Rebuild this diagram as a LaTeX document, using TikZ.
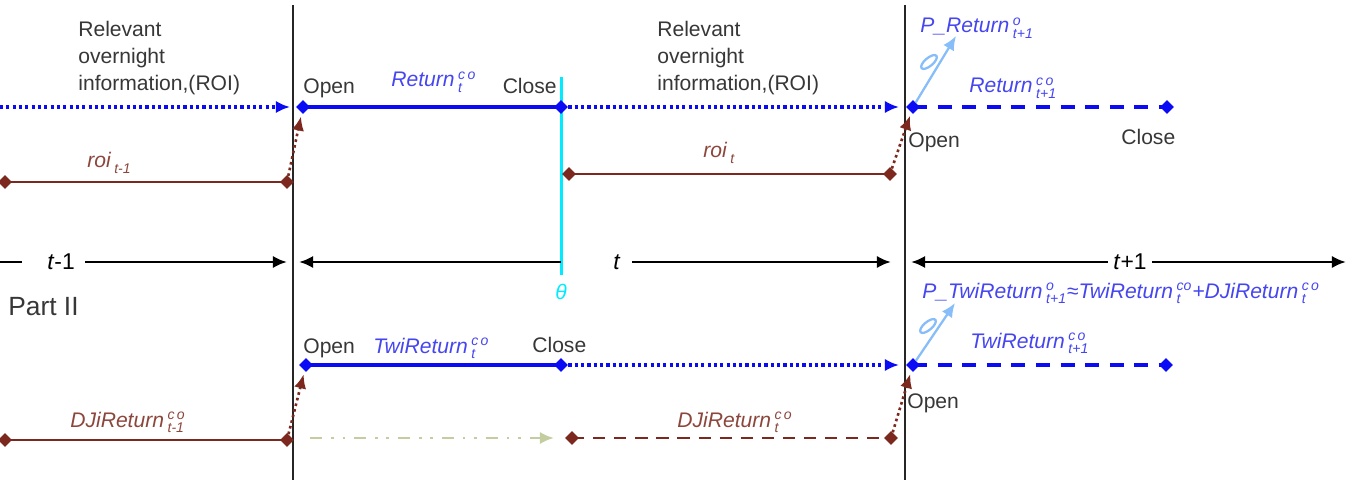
\documentclass[tikz,border=0pt]{standalone}
\usepackage{amsmath}
\usepackage{fontspec}
\setmainfont{Liberation Sans}
\usetikzlibrary{arrows.meta,shapes.geometric}
\newcommand{\sps}[2]{\,$^{\text{#1}}_{\text{#2}}$}

\begin{document}
\begin{tikzpicture}[x=0.02cm,y=-0.02cm,>={Latex[length=8pt,width=7pt]},
  every node/.style={inner sep=0pt},
  vln/.style={line width=1.3pt,black!85},
  tln/.style={line width=1.7pt,black},
  bsolid/.style={pureb,line width=1.8pt},
  bdot/.style={pureb,line width=1.8pt,dash pattern=on 1.8pt off 1.8pt,->},
  bdash/.style={pureb,line width=1.8pt,dash pattern=on 8pt off 6pt},
  rsolid/.style={brn,line width=1.5pt},
  rdash/.style={brn,line width=1.6pt,dash pattern=on 7pt off 5pt},
  rdot/.style={brn,line width=1.5pt,dash pattern=on 1.5pt off 1.8pt,->,shorten >=2pt},
  gdash/.style={olv,line width=1.6pt,dash pattern=on 7pt off 5pt on 1.5pt off 5pt on 1.5pt off 5pt,->},
  lbarr/.style={lblue,line width=1.3pt,->},
  bdia/.style={diamond,fill=pureb,minimum size=8pt},
  rdia/.style={diamond,fill=brn,minimum size=8pt},
  txt/.style={text=txtg,font=\fontsize{12}{15.4}\selectfont},
  blab/.style={text=labb,font=\fontsize{12}{14}\selectfont\itshape},
  rlab/.style={text=labr,font=\fontsize{12}{14}\selectfont\itshape}]

\definecolor{pureb}{RGB}{10,10,245}
\definecolor{labb}{RGB}{70,70,240}
\definecolor{brn}{RGB}{125,40,30}
\definecolor{labr}{RGB}{140,70,60}
\definecolor{lblue}{RGB}{135,190,250}
\definecolor{olv}{RGB}{195,205,160}
\definecolor{cyanl}{RGB}{0,235,255}
\definecolor{txtg}{RGB}{55,55,55}

\useasboundingbox (0,0) rectangle (1348,493);

% day boundaries
\coordinate (d1top) at (293,5);   \coordinate (d1bot) at (293,480);
\coordinate (d2top) at (905,5);   \coordinate (d2bot) at (905,480);
\draw[vln](d1top)--(d1bot);
\draw[vln](d2top)--(d2bot);

% theta
\coordinate (thtop) at (561,77);  \coordinate (thbot) at (561,275);
\draw[cyanl,line width=1.7pt](thtop)--(thbot);
\node[text=cyanl,font=\fontsize{12}{14}\selectfont\itshape] (th) at (561,292) {θ};

% Part I : returns
\node[txt,anchor=north west,align=left] (roiA) at (78,21) {Relevant\\overnight\\information,(ROI)};
\node[txt,anchor=north west,align=left] (roiB) at (657,21) {Relevant\\overnight\\information,(ROI)};

\coordinate (ia) at (0,107);  \coordinate (ib) at (290,107);
\coordinate (ic) at (899,107);
\node[bdia] (o1) at (303,107) {};
\node[bdia] (c1) at (561,107) {};
\node[bdia] (o2) at (913,107) {};
\node[bdia] (c2) at (1167,107) {};
\draw[bdot](ia)--(ib);
\draw[bsolid](o1.center)--(c1.center);
\draw[bdot](c1)--(ic);
\draw[bdash](o2.center)--(c2.center);

\node[txt,anchor=base west] (op1) at (303,94) {Open};
\node[txt,anchor=base east] (cl1) at (557,94) {Close};
\node[blab,anchor=base west] (ret1) at (391,87) {Return\sps{c\,o}{t}};
\node[txt,anchor=base west] (op2) at (908,148) {Open};
\node[txt,anchor=base west] (cl2) at (1121,145) {Close};
\node[blab,anchor=base west] (ret2) at (969,93) {Return\sps{c\,o}{t+1}};
\node[blab,anchor=base west] (pret) at (920,33) {P\_Return\sps{o}{t+1}};

\coordinate (pr1) at (956,36);
\draw[lbarr](o2)--(pr1);
\draw[lblue,line width=1.3pt](929,62) ellipse [x radius=5.5pt,y radius=2.3pt,rotate=40];

\node[rdia] (ra1) at (5,182) {};
\node[rdia] (rb1) at (287,182) {};
\node[rdia] (ra2) at (569,174) {};
\node[rdia] (rb2) at (890,174) {};
\draw[rsolid](ra1.center)--(rb1.center);
\draw[rsolid](ra2.center)--(rb2.center);
\draw[rdot](rb1)--(o1);
\draw[rdot](rb2)--(o2);
\node[rlab,anchor=base west] (roi1) at (87,168) {roi\sps{}{t-1}};
\node[rlab,anchor=base west] (roi2) at (703,158) {roi\sps{}{t}};

% time line
\coordinate (l0) at (0,262);   \coordinate (l1) at (22,262);
\coordinate (l2) at (85,262);  \coordinate (l3) at (287,262);
\coordinate (l4) at (299,262); \coordinate (l5) at (561,262);
\coordinate (l6) at (632,262); \coordinate (l7) at (891,262);
\coordinate (l8) at (911,262); \coordinate (l9) at (1108,262);
\coordinate (l10) at (1152,262); \coordinate (l11) at (1346,262);
\draw[tln](l0)--(l1);
\draw[tln,->](l2)--(l3);
\draw[tln,<-](l4)--(l5);
\draw[tln,->](l6)--(l7);
\draw[tln,<-](l8)--(l9);
\draw[tln,->](l10)--(l11);
\node[font=\fontsize{13}{15}\selectfont] (tm1) at (61,262) {\textit{t}-1};
\node[font=\fontsize{13}{15}\selectfont] (tt) at (617,262) {\textit{t}};
\node[font=\fontsize{13}{15}\selectfont] (tp1) at (1130,262) {\textit{t}+1};

% Part II
\node[font=\fontsize{15}{18}\selectfont,text=txtg,anchor=base west] (p2) at (8,315) {Part II};

\node[bdia] (o3) at (306,365) {};
\node[bdia] (c3) at (561,365) {};
\node[bdia] (o4) at (913,365) {};
\node[bdia] (c4) at (1166,365) {};
\coordinate (id) at (899,365);
\draw[bsolid](o3.center)--(c3.center);
\draw[bdot](c3)--(id);
\draw[bdash](o4.center)--(c4.center);

\node[txt,anchor=base west] (op3) at (303,353) {Open};
\node[txt,anchor=base west] (cl3) at (532,352) {Close};
\node[blab,anchor=base west] (twi1) at (373,353) {TwiReturn\sps{c\,o}{t}};
\node[txt,anchor=base west] (op4) at (907,408) {Open};
\node[blab,anchor=base west] (twi2) at (970,348) {TwiReturn\sps{c\,o}{t+1}};
\node[blab,anchor=base west] (ptwi) at (922,298) {P\_TwiReturn\sps{o}{t+1}≈TwiReturn\sps{co}{t}+DJiReturn\sps{c\,o}{t}};

\coordinate (pr2) at (955,303);
\draw[lbarr](o4)--(pr2);
\draw[lblue,line width=1.3pt](928,326) ellipse [x radius=5.5pt,y radius=2.3pt,rotate=40];

\node[rdia] (ra3) at (5,440) {};
\node[rdia] (rb3) at (287,440) {};
\node[rdia] (ra4) at (572,438) {};
\node[rdia] (rb4) at (891,438) {};
\draw[rsolid](ra3.center)--(rb3.center);
\draw[rdash](ra4.center)--(rb4.center);
\draw[rdot](rb3)--(o3);
\draw[rdot](rb4)--(o4);
\node[rlab,anchor=base west] (dji1) at (70,427) {DJiReturn\sps{c\,o}{t-1}};
\node[rlab,anchor=base west] (dji2) at (677,427) {DJiReturn\sps{c\,o}{t}};

\coordinate (ga) at (310,438); \coordinate (gb) at (554,438);
\draw[gdash](ga)--(gb);

\end{tikzpicture}
\end{document}
